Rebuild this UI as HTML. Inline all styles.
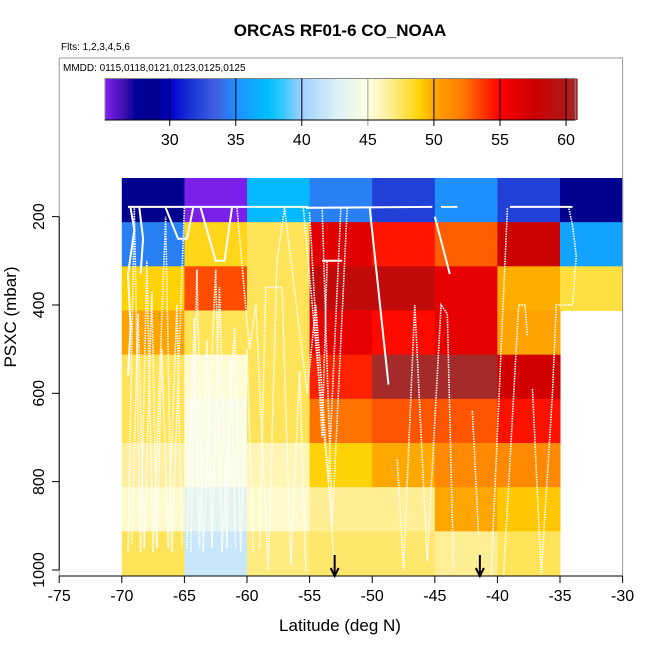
<!DOCTYPE html>
<html><head><meta charset="utf-8"><style>
body{margin:0;background:#fff}
svg{display:block;font-family:"Liberation Sans",Arial,sans-serif}
</style></head><body>
<svg id="chart" width="650" height="650" viewBox="0 0 650 650">
<text x="340" y="36" text-anchor="middle" font-weight="bold" font-size="17">ORCAS RF01-6 CO_NOAA</text>
<text x="61" y="50" font-size="10">Flts: 1,2,3,4,5,6</text>
<text x="63" y="71" font-size="10">MMDD: 0115,0118,0121,0123,0125,0125</text>
<g id="cells"></g>
<g id="tracks"></g>
<g id="cbar"></g>
<rect x="59.2" y="58" width="563.4" height="518" fill="none" stroke="#999" stroke-width="1"/>
<g id="axes"></g>
<text x="340" y="631" text-anchor="middle" font-size="17">Latitude (deg N)</text>
<text transform="translate(16,317) rotate(-90)" text-anchor="middle" font-size="17">PSXC (mbar)</text>
</svg>
<script>
const latEdges=[-70,-65,-60,-55,-50,-45,-40,-35,-30];
const presEdges=[112.5,212.5,312.5,412.5,512.5,612.5,712.5,812.5,912.5,1013.5];
const gridValues=[
[28.5,25.2,37.2,34.5,32,35,32,28.5],
[34.5,48.6,47.6,56.5,54.5,52.8,57.8,36],
[48.9,53.2,47.6,58.5,58.5,56.2,49.8,48],
[50.1,47.6,47.6,56.2,54.8,56.2,50.1,null],
[47.6,45.3,47.6,54.2,61,61,57.3,null],
[47.6,44.7,47.6,52.3,53,53,54.6,null],
[46.5,44.7,46,48.9,49.9,51.5,51.5,null],
[45.5,43.3,45.5,46.7,46.7,50,49.2,null],
[47.6,41.8,47,47.3,47.3,46.7,47.6,null]];
const xTicks=[-75,-70,-65,-60,-55,-50,-45,-40,-35,-30];
const yTicks=[200,400,600,800,1000];
const cbTicks=[30,35,40,45,50,55,60];
const arrowLats=[-53,-41.4];
const tracks=[
 {dash:false,pts:[[-69.5,178],[-55.2,178],[-55.2,180],[-45.2,178]]},
 {dash:false,pts:[[-44.5,178],[-43.2,178]]},
 {dash:false,pts:[[-39,178],[-34,178]]},
 {dash:false,pts:[[-69.3,180],[-69,230],[-69.5,330],[-69.3,450],[-69.5,560]]},
 {dash:false,pts:[[-68.6,180],[-68.3,250],[-68.5,330]]},
 {dash:true,pts:[[-69.5,960],[-69,180],[-68.5,960],[-68,300],[-67.5,960],[-66.5,200],[-66,960],[-65,180]]},
 {dash:true,pts:[[-69.2,940],[-68.7,420],[-68.2,950],[-67.6,370],[-67.2,950],[-66.8,500],[-66.3,950],[-65.6,400],[-65.2,950]]},
 {dash:true,pts:[[-64.5,960],[-64,320],[-63.5,960],[-62.5,320],[-62,960],[-61,450],[-60.5,960],[-60,500],[-59.5,960]]},
 {dash:true,pts:[[-64.8,950],[-64.2,430],[-63.8,950],[-63.2,480],[-62.8,950],[-62.2,360],[-61.6,950],[-61.3,520],[-60.9,950]]},
 {dash:false,pts:[[-63.7,180],[-62.5,300],[-61.8,300],[-61.2,180]]},
 {dash:false,pts:[[-66.5,180],[-65.5,250],[-64.8,250],[-64.3,180]]},
 {dash:true,pts:[[-59,950],[-58.5,360],[-57.2,360],[-56.5,990],[-55.8,550],[-55.3,1000]]},
 {dash:true,pts:[[-60.8,180],[-59.8,500],[-59.3,400],[-58.3,1000],[-57.6,300],[-57,180]]},
 {dash:true,pts:[[-57,180],[-55.2,600],[-54.5,400],[-53,1000]]},
 {dash:true,pts:[[-55.5,180],[-53.5,800],[-52.5,180]]},
 {dash:true,pts:[[-54,180],[-53.2,900],[-52,180]]},
 {dash:true,pts:[[-55,190],[-54,700],[-53.6,300]]},
 {dash:false,pts:[[-54,300],[-52.4,300]]},
 {dash:false,pts:[[-50.2,180],[-48.7,580]]},
 {dash:true,pts:[[-48,750],[-47.5,1000],[-46.6,400],[-45.6,980],[-44.5,400],[-44,420],[-43.5,1000]]},
 {dash:false,pts:[[-45,200],[-43.8,330]]},
 {dash:true,pts:[[-42,640],[-41.5,920]]},
 {dash:true,pts:[[-40.5,1010],[-39.2,180]]},
 {dash:true,pts:[[-39.5,1010],[-38.3,400],[-37.8,400],[-37.6,470]]},
 {dash:true,pts:[[-37.2,590],[-36.5,1010],[-35.6,600],[-35.3,400],[-34,400],[-33.7,290],[-34,220],[-34.3,180]]}
];
const stops=[[25.1,'#8020f0'],[26.5,'#4010b0'],[27.5,'#000098'],[29,'#00008b'],[30,'#0000cd'],[32,'#2040d8'],[33.5,'#4060e0'],[35,'#1e90ff'],[37.5,'#00bfff'],[38.5,'#30c8ff'],[40,'#a0d0ff'],[42.5,'#d8f0f8'],[45,'#ffffe0'],[46.5,'#fff0a0'],[48,'#ffe040'],[49,'#ffd000'],[50,'#ffa500'],[52,'#ff8000'],[53.5,'#ff4000'],[55,'#ff0000'],[57.5,'#cd0000'],[60,'#b01818'],[61,'#a52a2a']];
const NS='http://www.w3.org/2000/svg';
const X=l=>59.2+(l+75)*12.52;
const Y=p=>570-(1000-p)*0.4417;
const CB=v=>105+(v-25.1)*13.21;
function hex(h){return [1,3,5].map(i=>parseInt(h.substr(i,2),16));}
function color(v){
 if(v<=stops[0][0])return stops[0][1];
 for(let i=1;i<stops.length;i++){if(v<=stops[i][0]){const a=stops[i-1],b=stops[i],t=(v-a[0])/(b[0]-a[0]);const c1=hex(a[1]),c2=hex(b[1]);return 'rgb('+c1.map((c,k)=>Math.round(c+(c2[k]-c)*t)).join(',')+')';}}
 return stops[stops.length-1][1];
}
function mk(tag,attrs,parent){const e=document.createElementNS(NS,tag);for(const k in attrs)e.setAttribute(k,attrs[k]);parent.appendChild(e);return e;}
const cells=document.getElementById('cells');
gridValues.forEach((row,r)=>row.forEach((v,c)=>{
 if(v===null)return;
 const e=mk('rect',{x:X(latEdges[c]),y:Y(presEdges[r]),width:X(latEdges[c+1])-X(latEdges[c])+0.5,height:Y(presEdges[r+1])-Y(presEdges[r])+0.5,fill:color(v)},cells);
 
 
}));
const tg=document.getElementById('tracks');
tracks.forEach(t=>{
 const e=mk('polyline',{points:t.pts.map(p=>X(p[0])+','+Y(p[1])).join(' '),fill:'none',stroke:'#fff','stroke-width':t.dash?1.6:2,'stroke-dasharray':t.dash?'1.5,1':'none'},tg);
 
 
});
arrowLats.forEach(l=>{
 const g=mk('g',{},tg);
 
 
 mk('line',{x1:X(l),y1:555,x2:X(l),y2:575,stroke:'#000','stroke-width':2},g);
 mk('polyline',{points:(X(l)-4)+',568 '+X(l)+',576 '+(X(l)+4)+',568',fill:'none',stroke:'#000','stroke-width':2},g);
});
const cb=document.getElementById('cbar');
for(let v=25.1;v<60.75;v+=0.25){mk('rect',{x:CB(v),y:78.5,width:13.21*0.25+0.4,height:41.5,fill:color(v+0.125)},cb);}
mk('rect',{x:105,y:78.5,width:CB(60.7)-105,height:41.5,fill:'none',stroke:'#888','stroke-width':1},cb);
cbTicks.forEach(v=>{
 const t=mk('line',{x1:CB(v),y1:78.5,x2:CB(v),y2:126,stroke:v===45?'#999':'#000','stroke-width':1},cb);
 
 
 const tx=mk('text',{x:CB(v),y:145,'text-anchor':'middle','font-size':16},cb);tx.textContent=v;
 
 
});
mk('line',{x1:105,y1:120,x2:CB(60.7),y2:120,stroke:'#000','stroke-width':1},cb);
const ax=document.getElementById('axes');
mk('line',{x1:X(-75),y1:576,x2:X(-30),y2:576,stroke:'#000','stroke-width':1},ax);
xTicks.forEach(l=>{
 mk('line',{x1:X(l),y1:576,x2:X(l),y2:583,stroke:'#000'},ax);
 const t=mk('text',{x:X(l),y:601,'text-anchor':'middle','font-size':16},ax);t.textContent=l;
 
 
});
mk('line',{x1:59.2,y1:Y(200),x2:59.2,y2:Y(1000),stroke:'#000','stroke-width':1},ax);
yTicks.forEach(p=>{
 mk('line',{x1:52,y1:Y(p),x2:59.2,y2:Y(p),stroke:'#000'},ax);
 const t=mk('text',{x:0,y:0,'text-anchor':'middle','font-size':16,transform:'translate(44,'+Y(p)+') rotate(-90)'},ax);t.textContent=p;
 
 
});
</script>
</body></html>
